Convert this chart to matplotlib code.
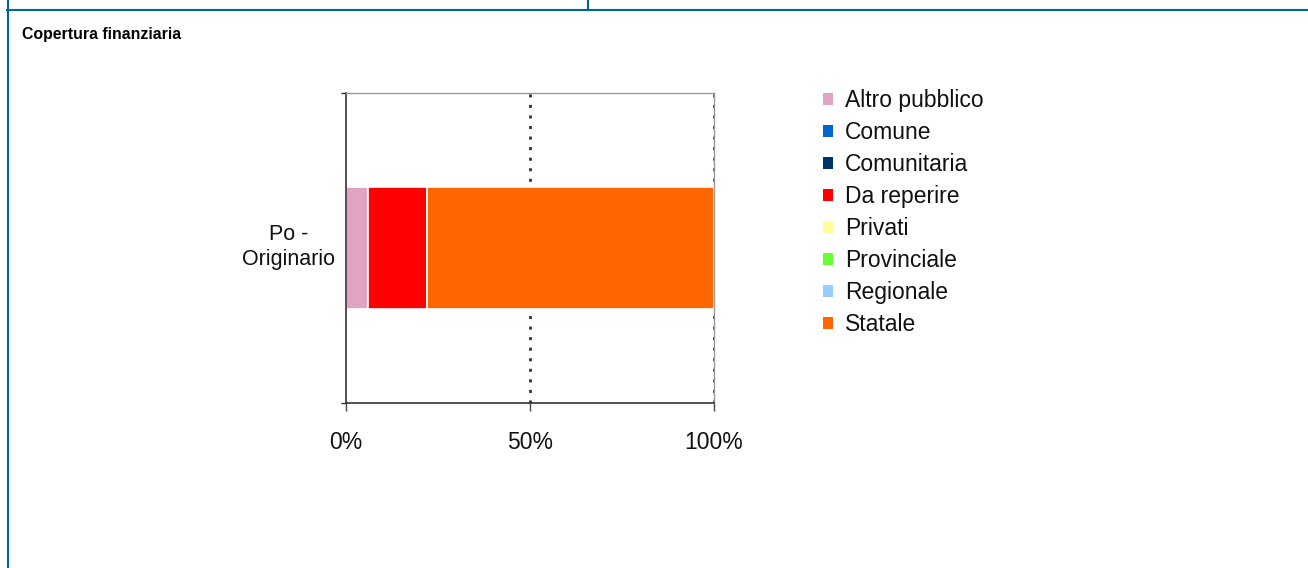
import matplotlib
matplotlib.use("Agg")
import matplotlib.pyplot as plt
from matplotlib.lines import Line2D
from matplotlib.patches import Patch
import matplotlib.transforms as mtransforms

plt.rcParams['font.family'] = ['Liberation Sans', 'DejaVu Sans']

# ---- data ----
title = "Copertura finanziaria"
category = "Po -\nOriginario"
series_names = ["Altro pubblico", "Comune", "Comunitaria", "Da reperire",
                "Privati", "Provinciale", "Regionale", "Statale"]
series_values = [6, 0, 0, 16, 0, 0, 0, 78]
series_colors = ["#E0A3C1", "#0066CC", "#003366", "#FF0000",
                 "#FFFF99", "#66FF33", "#99CCFF", "#FF6600"]
x_ticks = [0, 50, 100]
x_ticklabels = ["0%", "50%", "100%"]

W, H = 1308, 568
fig = plt.figure(figsize=(W / 100, H / 100), dpi=100)
fig.patch.set_facecolor("white")

def fx(px):
    return px / W

def fy(py):
    return 1 - py / H

# frame lines
frame_col = "#00649C"
fig.add_artist(Line2D([fx(7.7), fx(7.7)], [fy(0), fy(H)], color=frame_col, lw=1.5,
                      transform=fig.transFigure))
fig.add_artist(Line2D([fx(7), fx(W)], [fy(9.5), fy(9.5)], color=frame_col, lw=1.5,
                      transform=fig.transFigure))
fig.add_artist(Line2D([fx(588), fx(588)], [fy(0), fy(9.5)], color=frame_col, lw=1.5,
                      transform=fig.transFigure))

fig.text(fx(22), fy(34.5), title, fontsize=11.4, fontweight="bold", ha="left",
         va="center", color="black")

# axes
left, right, top, bottom = 346, 714, 93, 403
ax = fig.add_axes([fx(left), fy(bottom), fx(right - left), (bottom - top) / H])
ax.set_xlim(0, 100)
ax.set_ylim(-0.5, 0.5)

start = 0
for name, val, col in zip(series_names, series_values, series_colors):
    ax.barh([0], [val], left=start, height=0.394, color=col, edgecolor="white",
            linewidth=1.2, label=name, zorder=2)
    start += val

ax.set_axisbelow(True)
for xv in x_ticks[1:]:
    ax.axvline(xv, color="#333333", lw=2.0, linestyle=(0, (1.1, 2.7)), zorder=1)

ax.set_xticks(x_ticks)
ax.set_xticklabels(x_ticklabels, fontsize=16.5)
ax.tick_params(axis="x", direction="out", length=6, width=1, color="#444444",
               pad=14, labelcolor="#111111")

ax.set_yticks([0])
ax.set_yticklabels([category], fontsize=15.5, linespacing=1.3)
ax.set_yticks([-0.5, 0.5], minor=True)
ax.tick_params(axis="y", which="major", length=0, pad=8, labelcolor="#111111")
ax.tick_params(axis="y", which="minor", length=3.6, width=1, color="#333333",
               direction="out")
shift = mtransforms.ScaledTranslation(0, 6 / 100, fig.dpi_scale_trans)
for lab in ax.get_yticklabels():
    lab.set_multialignment("center")
    lab.set_transform(lab.get_transform() + shift)

for s in ["left", "bottom"]:
    ax.spines[s].set_color("#333333")
    ax.spines[s].set_linewidth(1.2)
for s in ["top", "right"]:
    ax.spines[s].set_color("#999999")
    ax.spines[s].set_linewidth(1.0)

handles = [Patch(facecolor=c, edgecolor="none") for c in series_colors]
fig.legend(handles, series_names, loc="upper left",
           bbox_to_anchor=(fx(823), fy(89)), bbox_transform=fig.transFigure,
           frameon=False, fontsize=16.5, borderpad=0, borderaxespad=0,
           handlelength=0.44, handleheight=0.44, handletextpad=0.52,
           labelspacing=0.395, labelcolor="#111111")

fig.savefig("out.png", dpi=100, facecolor="white")
